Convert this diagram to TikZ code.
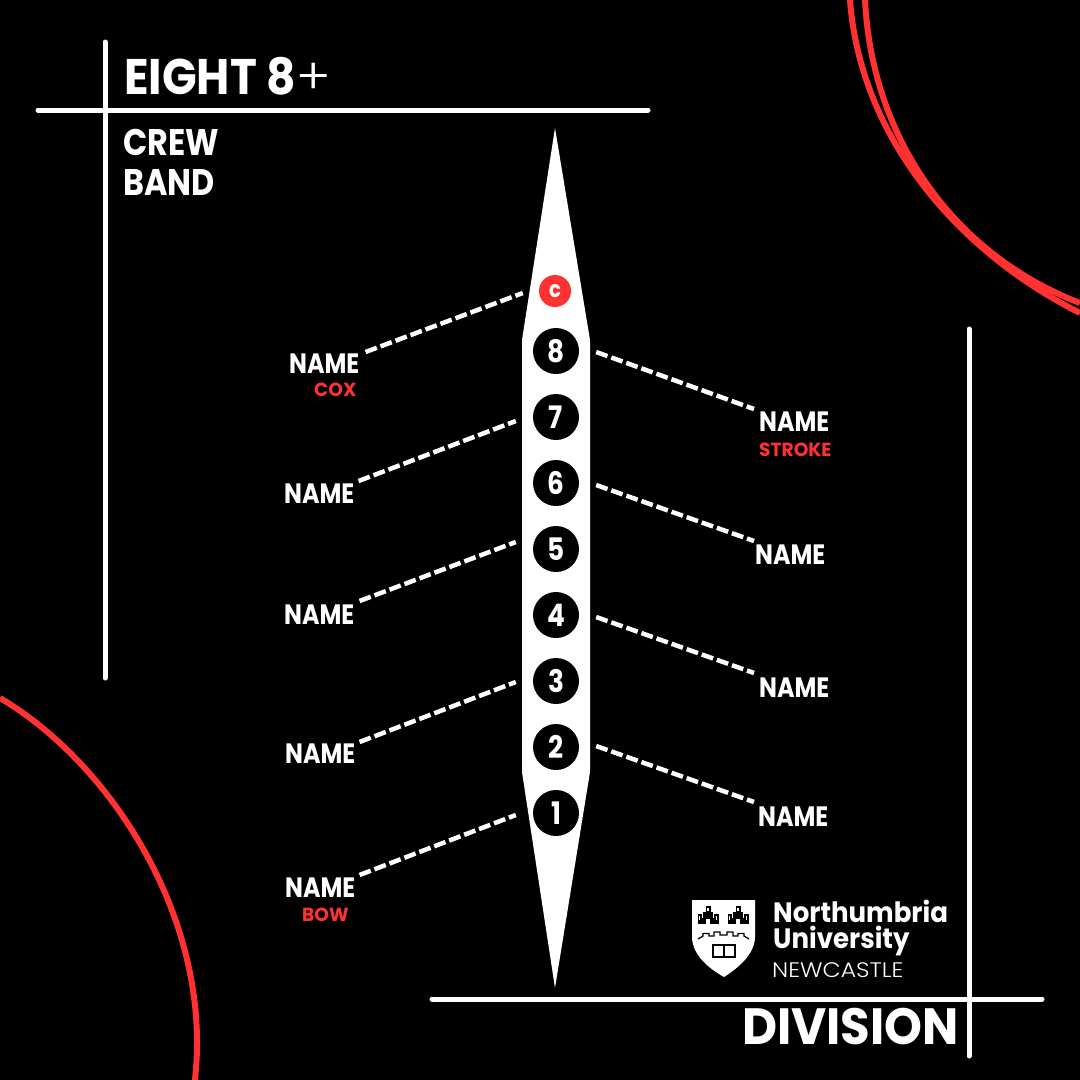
\documentclass[tikz,border=0pt]{standalone}
\usepackage{fontspec}
\setmainfont{Poppins}
\newfontfamily\spart{Poppins}[FakeStretch=0.85,BoldFont={Poppins Bold}]
\newfontfamily\sptitle{Poppins}[FakeStretch=0.91,BoldFont={Poppins Bold}]
\newfontfamily\spband{Poppins}[FakeStretch=0.86,BoldFont={Poppins Bold}]
\newfontfamily\sprole{Poppins}[FakeStretch=0.98,BoldFont={Poppins Bold}]
\newfontfamily\spdiv{Poppins}[FakeStretch=0.945,BoldFont={Poppins Bold}]
\newfontfamily\splight{Poppins Light}[FakeStretch=1.12]
\definecolor{accent}{HTML}{FF3131}
\tikzset{
  rule/.style={white,line width=5pt,line cap=round},
  arcline/.style={accent,line width=6pt},
  seat/.style={circle,fill=black,minimum size=46pt,inner sep=0pt,text=white,font=\spart\bfseries\fontsize{31}{31}\selectfont},
  coxseat/.style={circle,fill=accent,minimum size=32pt,inner sep=0pt,text=white,font=\spart\bfseries\fontsize{23}{23}\selectfont},
  crewname/.style={anchor=west,inner sep=0pt,text=white,font=\spart\bfseries\fontsize{28}{28}\selectfont},
  role/.style={anchor=west,inner sep=0pt,text=accent,font=\sprole\bfseries\fontsize{19}{19}\selectfont},
  heading/.style={anchor=west,inner sep=0pt,text=white,font=\spband\bfseries\fontsize{37}{37}\selectfont},
  bigheading/.style={anchor=west,inner sep=0pt,text=white,font=\spdiv\bfseries\fontsize{51}{51}\selectfont},
  link/.style={white,line width=4.5pt,dash pattern=on 12pt off 4pt},
}
\begin{document}
\begin{tikzpicture}[x=1pt,y=-1pt]
\useasboundingbox (0,0) rectangle (1080,1080);
\fill[black] (0,0) rectangle (1080,1080);
% arcs
\draw[arcline] (850,0) .. controls (860,135) and (955,250) .. (1080,313);
\draw[arcline] (865,0) .. controls (872,140) and (955,255) .. (1080,303);
\draw[arcline] (0,698) .. controls (105,760) and (198,900) .. (197,1045) .. controls (197,1057) and (196,1069) .. (195,1080);
% rules
\draw[rule] (105,42) -- (105,678);
\draw[rule] (38,110) -- (648,110);
\draw[rule] (969,329) -- (969,1056);
\draw[rule] (432,999) -- (1042,999);
% hull
\fill[white] (555,128) -- (590,340) -- (590,772) -- (555,988) -- (522,772) -- (522,340) -- cycle;
% seats
\node[coxseat] (sc) at (555,291) {c};
\node[seat] (s8) at (556,351) {8};
\node[seat] (s7) at (556,417) {7};
\node[seat] (s6) at (556,483) {6};
\node[seat] (s5) at (556,549) {5};
\node[seat] (s4) at (556,615) {4};
\node[seat] (s3) at (556,681) {3};
\node[seat] (s2) at (556,747) {2};
\node[seat] (s1) at (556,813) {1};
% headings
\node[anchor=west,inner sep=0pt,text=white] (title) at (124,76) {\sptitle\fontsize{50}{50}\selectfont\textbf{EIGHT 8}{\fontspec{Poppins Light}[FakeStretch=1.05]+}};
\node[heading] (crew) at (123,142) {CREW};
\node[heading] (band) at (123,183) {BAND};
\node[bigheading] (division) at (742,1027) {DIVISION};
% names
\node[crewname] (ncox) at (289,364) {NAME};
\node[role] (rcox) at (314,390) {COX};
\node[crewname] (n7) at (284,494) {NAME};
\node[crewname] (n5) at (284,615) {NAME};
\node[crewname] (n3) at (285,754) {NAME};
\node[crewname] (n1) at (285,888) {NAME};
\node[role] (rbow) at (302,915) {BOW};
\node[crewname] (n8) at (759,422) {NAME};
\node[role] (rstroke) at (759,450) {STROKE};
\node[crewname] (n6) at (755,555) {NAME};
\node[crewname] (n4) at (759,688) {NAME};
\node[crewname] (n2) at (758,817) {NAME};
% connectors
\draw[link] ([shift={(6,-12)}]ncox.east) -- ([shift={(-16,2)}]sc.west);
\draw[link] ([shift={(4,-13)}]n7.east) -- ([shift={(-17,4)}]s7.west);
\draw[link] ([shift={(5,-14)}]n5.east) -- ([shift={(-17,-7)}]s5.west);
\draw[link] ([shift={(4,-12)}]n3.east) -- ([shift={(-17,1)}]s3.west);
\draw[link] ([shift={(4,-13)}]n1.east) -- ([shift={(-17,2)}]s1.west);
\draw[link] ([shift={(17,1)}]s8.east) -- ([shift={(-5,-13)}]n8.west);
\draw[link] ([shift={(17,2)}]s6.east) -- ([shift={(-1,-14)}]n6.west);
\draw[link] ([shift={(17,2)}]s4.east) -- ([shift={(-5,-15)}]n4.west);
\draw[link] ([shift={(17,-1)}]s2.east) -- ([shift={(-4,-15)}]n2.west);
% logo
\fill[white] (692,900) -- (755,900) -- (755,938) .. controls (754,955) and (738,968) .. (724,977) .. controls (708,968) and (693,955) .. (692,938) -- cycle;
\foreach \cx in {708,738}{
  \fill[black] (\cx-2.5,906) rectangle (\cx+2.5,912);
  \fill[black] (\cx-5,912) rectangle (\cx+5,924);
  \fill[black] (\cx-10.5,914) rectangle (\cx-6,924);
  \fill[black] (\cx+6,914) rectangle (\cx+10.5,924);
  \fill[black] (\cx-7,918) rectangle (\cx+7,924);
  \fill[white] (\cx-1.8,919) rectangle (\cx+1.8,924);
  \fill[white] (\cx-9.3,916) rectangle (\cx-7.7,920);
  \fill[white] (\cx+7.7,916) rectangle (\cx+9.3,920);
  \fill[white] (\cx-1,908) rectangle (\cx+1,911);
}
\draw[black,line width=1.3pt] (698,939) -- (703,936) -- (703,933.5) -- (709,933.5) -- (709,936) -- (714,936) -- (714,932) -- (720,932) -- (720,935) -- (727,935) -- (727,932) -- (733,932) -- (733,936) -- (738,936) -- (738,933.5) -- (744,933.5) -- (744,936) -- (749,939);
\draw[black,line width=1.6pt] (713,945) rectangle (735,957);
\draw[black,line width=1.6pt] (724,945) -- (724,957);
\node[anchor=west,inner sep=0pt,text=white,font=\bfseries\fontsize{28}{28}\selectfont,xscale=0.93] (lg1) at (773,911) {Northumbria};
\node[anchor=west,inner sep=0pt,text=white,font=\bfseries\fontsize{28}{28}\selectfont,xscale=0.93] (lg2) at (773,941) {University};
\node[anchor=west,inner sep=0pt,text=white,font=\splight\fontsize{21}{21}\selectfont] (lg3) at (772,970) {NEWCASTLE};
\end{tikzpicture}
\end{document}
